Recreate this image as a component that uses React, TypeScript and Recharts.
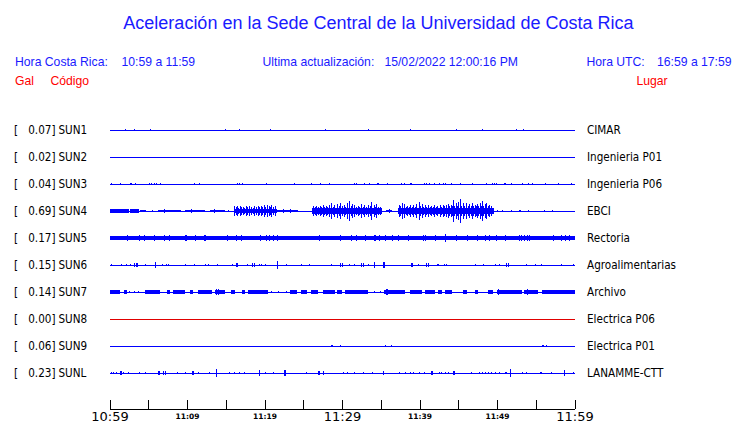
import React from 'react'
import { ComposedChart, Line, Area, Scatter, ErrorBar, XAxis, YAxis } from 'recharts'

// station codes, peak values (Gal) and places, top to bottom
const STATIONS = ['SUN1', 'SUN2', 'SUN3', 'SUN4', 'SUN5', 'SUN6', 'SUN7', 'SUN8', 'SUN9', 'SUNL']
const PEAKS = ['0.07', '0.02', '0.04', '0.69', '0.17', '0.15', '0.14', '0.00', '0.06', '0.23']
const PLACES = ['CIMAR', 'Ingenieria P01', 'Ingenieria P06', 'EBCI', 'Rectoria', 'Agroalimentarias', 'Archivo', 'Electrica P06', 'Electrica P01', 'LANAMME-CTT']
const TRACE_COLORS = ['#0000ff', '#0000ff', '#0000ff', '#0000ff', '#0000ff', '#0000ff', '#0000ff', '#e00000', '#0000ff', '#0000ff']

// time axis, minutes after 10:59
const TIME_TICKS = [0, 5, 10, 15, 20, 25, 30, 35, 40, 45, 50, 55, 60]
const TIME_LABELS = ['10:59', '', '11:09', '', '11:19', '', '11:29', '', '11:39', '', '11:49', '', '11:59']
const MAJOR_TICKS = [0, 30, 60]

// spikes: [minute, half amplitude in Gal]
const SUN1_SPIKES = [
  [2.0, 0.04], [3.1, 0.07], [5.2, 0.07], [14.9, 0.07], [16.7, 0.04], [20.7, 0.07], [27.8, 0.04],
  [33.4, 0.07], [38.8, 0.07], [44.7, 0.07], [48.0, 0.04], [52.4, 0.07], [53.3, 0.07],
]
const SUN2_SPIKES: number[][] = []
const SUN3_SPIKES = [
  [0.13, 0.05], [1.38, 0.05], [2.6, 0.07], [2.75, 0.07], [3.35, 0.04], [5.16, 0.04], [5.38, 0.05], [5.68, 0.05],
  [6.02, 0.04], [6.58, 0.05], [10.88, 0.05], [11.57, 0.04], [16.5, 0.07], [16.65, 0.07], [17.16, 0.04],
  [20.22, 0.04], [23.78, 0.05], [26.02, 0.05], [27.18, 0.05], [28.3, 0.05], [31.6, 0.06], [31.75, 0.06],
  [32.86, 0.05], [33.46, 0.05], [34.5, 0.07], [34.65, 0.07], [35.83, 0.04], [37.59, 0.05], [38.06, 0.04],
  [38.8, 0.06], [38.95, 0.06], [40.56, 0.05], [40.9, 0.05], [41.29, 0.06], [41.85, 0.05], [42.49, 0.06],
  [43.05, 0.05], [43.31, 0.05], [44.09, 0.04], [45.2, 0.05], [46.71, 0.05], [48.6, 0.04], [49.4, 0.06],
  [49.55, 0.06], [49.89, 0.05], [50.9, 0.07], [51.05, 0.07], [51.83, 0.05], [53.29, 0.04], [54.02, 0.05],
  [54.58, 0.05], [56.13, 0.04], [57.85, 0.04], [59.57, 0.05],
]
const SUN4_SPIKES = [
  [1.0, 0.1], [3.0, 0.1], [5.5, 0.08], [7.0, 0.09], [10.5, 0.09], [13.5, 0.1], [15.3, 0.08],
  [16.1, 0.3], [16.3, 0.2], [16.4, 0.26], [16.6, 0.18], [16.8, 0.3], [17.0, 0.2], [17.2, 0.24], [17.4, 0.18],
  [17.6, 0.3], [17.8, 0.2], [18.0, 0.26], [18.3, 0.22], [18.5, 0.18], [18.7, 0.3], [18.9, 0.2], [19.1, 0.26],
  [19.3, 0.2], [19.5, 0.3], [19.7, 0.22], [19.9, 0.33], [20.1, 0.24], [20.3, 0.36], [20.6, 0.3], [20.75, 0.2],
  [20.9, 0.36], [21.1, 0.22], [21.3, 0.28], [22.4, 0.1], [23.3, 0.09],
  [26.3, 0.26], [26.5, 0.2], [26.7, 0.3], [26.9, 0.22], [27.1, 0.27], [27.3, 0.2], [27.5, 0.33], [27.7, 0.24],
  [27.9, 0.3], [28.1, 0.22], [28.3, 0.36], [28.6, 0.44], [28.8, 0.24], [29.0, 0.33], [29.3, 0.38], [29.55, 0.26],
  [29.8, 0.45], [30.0, 0.26], [30.2, 0.36], [30.4, 0.24], [30.6, 0.42], [30.9, 0.55], [31.1, 0.26],
  [31.3, 0.4], [31.6, 0.36], [31.8, 0.24], [32.0, 0.3], [32.25, 0.22], [32.5, 0.4], [32.7, 0.24], [32.9, 0.33],
  [33.1, 0.22], [33.3, 0.36], [33.55, 0.26], [33.8, 0.5], [34.1, 0.33], [34.25, 0.22], [34.4, 0.4],
  [34.65, 0.22], [34.9, 0.24], [36.0, 0.1],
  [37.3, 0.36], [37.5, 0.26], [37.7, 0.44], [38.0, 0.4], [38.2, 0.24], [38.4, 0.3], [38.6, 0.22], [38.8, 0.33],
  [39.0, 0.24], [39.2, 0.36], [39.4, 0.24], [39.6, 0.4], [39.9, 0.5], [40.1, 0.26], [40.3, 0.4], [40.5, 0.24],
  [40.7, 0.36], [40.9, 0.24], [41.1, 0.33], [41.3, 0.22], [41.5, 0.3], [41.7, 0.24], [41.9, 0.36], [42.1, 0.24],
  [42.3, 0.3], [42.6, 0.32], [42.8, 0.24], [43.0, 0.36], [43.2, 0.26], [43.4, 0.33], [43.7, 0.4], [43.85, 0.26],
  [44.0, 0.36], [44.15, 0.28], [44.3, 0.62], [44.5, 0.3], [44.7, 0.44], [44.85, 0.3], [45.0, 0.5],
  [45.2, 0.69], [45.4, 0.3], [45.6, 0.44], [45.8, 0.3], [46.0, 0.46], [46.2, 0.3], [46.4, 0.4], [46.6, 0.28],
  [46.8, 0.46], [46.95, 0.28], [47.1, 0.36], [47.25, 0.26], [47.4, 0.4], [47.6, 0.28], [47.8, 0.44],
  [47.95, 0.3], [48.1, 0.56], [48.25, 0.28], [48.4, 0.4], [48.6, 0.46], [48.8, 0.28], [49.0, 0.36], [49.2, 0.28],
  [50.0, 0.06], [50.6, 0.06], [51.8, 0.06], [52.8, 0.08], [53.0, 0.06], [54.0, 0.05], [56.1, 0.06], [57.1, 0.08],
]
const SUN5_SPIKES = [
  [2.28, 0.17], [3.78, 0.17], [4.43, 0.17], [5.68, 0.17], [7.01, 0.15], [7.74, 0.15], [9.7, 0.17], [9.85, 0.17],
  [10.97, 0.17], [12.2, 0.19], [12.35, 0.19], [15.18, 0.17], [16.34, 0.15], [16.99, 0.15], [19.48, 0.17],
  [20.13, 0.17], [20.52, 0.17], [21.08, 0.17], [21.63, 0.15], [27.01, 0.17], [29.72, 0.15], [31.18, 0.15],
  [31.87, 0.17], [33.03, 0.17], [34.1, 0.17], [34.25, 0.17], [34.75, 0.17], [35.61, 0.15], [36.43, 0.15],
  [37.29, 0.15], [38.58, 0.15], [40.5, 0.17], [40.65, 0.17], [41.94, 0.17], [43.23, 0.24], [44.65, 0.17],
  [46.15, 0.17], [47.4, 0.17], [48.39, 0.15], [49.03, 0.15], [49.89, 0.15], [50.97, 0.15], [52.82, 0.17],
  [53.12, 0.17], [53.46, 0.17], [53.81, 0.17], [54.11, 0.17], [57.2, 0.15], [58.28, 0.17], [58.8, 0.17],
  [59.35, 0.17],
]
const SUN6_SPIKES = [
  [0.13, 0.06], [1.42, 0.06], [2.15, 0.06], [2.67, 0.06], [3.2, 0.09], [3.4, 0.09], [3.6, 0.09], [4.52, 0.06],
  [5.89, 0.17], [6.8, 0.05], [7.31, 0.06], [7.61, 0.05], [9.68, 0.05], [10.88, 0.06], [12.26, 0.05], [12.77, 0.06],
  [13.85, 0.05], [15.78, 0.06], [16.3, 0.09], [16.5, 0.09], [17.76, 0.06], [18.45, 0.09], [18.65, 0.09],
  [19.23, 0.06], [19.57, 0.06], [20.09, 0.06], [21.55, 0.2], [22.71, 0.06], [24.73, 0.06], [25.72, 0.06],
  [28.6, 0.06], [29.8, 0.09], [30.0, 0.09], [30.84, 0.06], [31.53, 0.06], [32.5, 0.09], [32.65, 0.09],
  [33.33, 0.06], [34.11, 0.17], [35.3, 0.15], [35.45, 0.15], [38.85, 0.12], [39.0, 0.12], [39.78, 0.06],
  [40.9, 0.09], [41.05, 0.09], [42.2, 0.07], [42.35, 0.07], [43.2, 0.07], [43.4, 0.07], [47.1, 0.06],
  [48.17, 0.06], [49.76, 0.06], [50.32, 0.06], [51.2, 0.09], [51.4, 0.09], [53.76, 0.06], [54.84, 0.06],
  [55.7, 0.06], [58.28, 0.06], [59.78, 0.07],
]
const SUN7_SPIKES = [
  [2.58, 0.08], [3.14, 0.08], [3.66, 0.08], [13.8, 0.16], [13.95, 0.16], [20.86, 0.08], [21.72, 0.08], [22.8, 0.08],
  [34.19, 0.08], [34.84, 0.08], [35.7, 0.16], [35.85, 0.16], [50.1, 0.14], [53.9, 0.16],
]
const SUN8_SPIKES: number[][] = []
const SUN9_SPIKES = [
  [28.6, 0.08], [28.7, 0.08], [29.72, 0.05], [35.53, 0.08], [36.26, 0.05], [55.8, 0.08], [55.9, 0.08], [56.34, 0.05],
]
const SUNL_SPIKES = [
  [0.13, 0.06], [0.43, 0.06], [0.86, 0.06], [1.3, 0.1], [1.45, 0.1], [1.72, 0.06], [2.37, 0.05], [3.78, 0.06],
  [4.6, 0.06], [6.2, 0.1], [6.35, 0.1], [6.9, 0.1], [7.1, 0.1], [8.73, 0.08], [9.68, 0.08], [10.6, 0.1],
  [10.8, 0.1], [11.4, 0.07], [12.82, 0.06], [13.76, 0.22], [15.48, 0.06], [16.04, 0.05], [16.77, 0.06],
  [17.33, 0.05], [19.23, 0.19], [20.0, 0.05], [21.08, 0.05], [22.5, 0.16], [22.7, 0.16], [25.38, 0.05],
  [26.9, 0.1], [27.05, 0.1], [27.53, 0.1], [30.11, 0.05], [30.67, 0.08], [31.61, 0.05], [32.69, 0.08],
  [33.89, 0.08], [35.27, 0.13], [37.33, 0.06], [38.19, 0.07], [38.8, 0.08], [39.14, 0.06], [39.91, 0.05],
  [40.52, 0.05], [41.45, 0.1], [41.6, 0.1], [42.49, 0.06], [42.8, 0.07], [43.31, 0.06], [43.66, 0.06],
  [44.35, 0.1], [44.5, 0.1], [46.67, 0.06], [47.74, 0.08], [48.09, 0.06], [48.47, 0.06], [48.9, 0.06],
  [49.25, 0.06], [49.76, 0.06], [50.32, 0.06], [50.97, 0.07], [51.18, 0.06], [51.74, 0.24], [53.2, 0.08],
  [53.76, 0.08], [55.5, 0.08], [55.65, 0.08], [56.99, 0.06], [58.62, 0.16], [59.78, 0.06],
]

// dense segments: [from minute, to minute, half amplitude in Gal]
const SUN4_BANDS = [
  [0, 2.4, 0.09], [2.6, 3.7, 0.09], [3.9, 4.7, 0.08], [6.2, 9.2, 0.07], [9.7, 12.3, 0.08], [12.9, 14.8, 0.08],
  [16.0, 21.6, 0.13], [21.6, 24.2, 0.08], [26.1, 35.1, 0.14], [35.6, 36.4, 0.08], [37.1, 49.5, 0.15],
]
const SUN5_BANDS = [[0, 60, 0.13]]
const SUN7_BANDS = [
  [0, 1.29, 0.09], [1.85, 2.19, 0.09], [4.52, 6.45, 0.09], [7.31, 7.74, 0.09], [8.17, 9.68, 0.09],
  [10.32, 10.75, 0.09], [11.4, 13.12, 0.09], [13.55, 14.84, 0.09], [15.61, 16.13, 0.09], [16.99, 17.42, 0.09],
  [17.85, 20.43, 0.09], [23.23, 24.09, 0.09], [24.65, 25.38, 0.09], [25.94, 26.88, 0.09], [27.53, 29.03, 0.09],
  [29.25, 29.89, 0.09], [30.32, 33.33, 0.09], [35.38, 38.06, 0.09], [38.71, 40.22, 0.09], [40.65, 41.94, 0.09],
  [42.37, 42.8, 0.09], [43.23, 44.09, 0.09], [45.59, 46.02, 0.09], [47.1, 47.53, 0.09], [48.82, 49.46, 0.09],
  [49.89, 53.12, 0.09], [53.46, 55.27, 0.09], [55.7, 60, 0.09],
]

const SPIKES = [SUN1_SPIKES, SUN2_SPIKES, SUN3_SPIKES, SUN4_SPIKES, SUN5_SPIKES, SUN6_SPIKES, SUN7_SPIKES, SUN8_SPIKES, SUN9_SPIKES, SUNL_SPIKES]
const BANDS: Record<number, number[][]> = { 3: SUN4_BANDS, 4: SUN5_BANDS, 6: SUN7_BANDS }

const GAL_PER_ROW = 1.5
const rowValue = (i: number) => STATIONS.length - i
const ROW_TICKS = STATIONS.map((_, i) => rowValue(i))
const Y_DOMAIN = [-1 / 3, 11]

const baseData = (i: number) => [{ t: 0, v: rowValue(i) }, { t: 60, v: rowValue(i) }]
const spikeData = (i: number) => SPIKES[i].map(([t, a]) => ({ t, v: rowValue(i), e: a / GAL_PER_ROW }))
const bandData = (i: number) => {
  const out: any[] = []
  BANDS[i].forEach(([a, b, amp]) => {
    const h = amp / GAL_PER_ROW
    out.push({ t: a, v: [rowValue(i) - h, rowValue(i) + h] })
    out.push({ t: b, v: [rowValue(i) - h, rowValue(i) + h] })
    out.push({ t: b, v: null })
  })
  return out
}

const LABEL_FONT = "'DejaVu Sans Condensed', 'DejaVu Sans', sans-serif"
const HEAD_FONT = "'Liberation Sans', Arial, sans-serif"

const LeftTick = ({ y, payload }: any) => {
  const i = STATIONS.length - payload.value
  return (
    <g fontFamily={LABEL_FONT} fontSize={11.6} fill="#000">
      <text x={14} y={y} dominantBaseline="central">[</text>
      <text x={55.5} y={y} textAnchor="end" dominantBaseline="central">{PEAKS[i]}]</text>
      <text x={58.5} y={y} dominantBaseline="central">{STATIONS[i]}</text>
    </g>
  )
}

const RightTick = ({ x, y, payload }: any) => {
  const i = STATIONS.length - payload.value
  return (
    <text x={x + 12} y={y} dominantBaseline="central" fontFamily={LABEL_FONT} fontSize={11.6} fill="#000">
      {PLACES[i]}
    </text>
  )
}

const TimeTick = ({ x, y, payload }: any) => {
  const idx = TIME_TICKS.indexOf(payload.value)
  const label = TIME_LABELS[idx]
  const major = MAJOR_TICKS.includes(payload.value)
  return (
    <g>
      <line x1={x} x2={x} y1={y - 9} y2={y} stroke="#000" />
      {label && (
        <text
          x={x}
          y={y + (major ? 12 : 10)}
          textAnchor="middle"
          fontFamily="'DejaVu Sans', sans-serif"
          fontSize={major ? 13 : 7.5}
          fontWeight={major ? 'normal' : 'bold'}
          fill="#000"
        >
          {label}
        </text>
      )}
    </g>
  )
}

export default function App() {
  return (
    <div style={{ position: 'absolute', left: 0, top: 0, width: 740, height: 423, background: '#fff', shapeRendering: 'crispEdges' }}>
      <svg width={740} height={100} style={{ position: 'absolute', left: 0, top: 0 }} fontFamily={HEAD_FONT}>
        <text x={378.5} y={28.5} textAnchor="middle" fontSize={18} fill="#1a1aff">
          Aceleración en la Sede Central de la Universidad de Costa Rica
        </text>
        <g fontSize={12.2} fill="#1a1aff">
          <text x={15} y={65.5}>Hora Costa Rica:</text>
          <text x={121.5} y={65.5}>10:59 a 11:59</text>
          <text x={262.5} y={65.5} xmlSpace="preserve">Ultima actualización:   15/02/2022 12:00:16 PM</text>
          <text x={586.5} y={65.5}>Hora UTC:</text>
          <text x={657} y={65.5}>16:59 a 17:59</text>
        </g>
        <g fontSize={12.2} fill="#ff0000">
          <text x={15} y={85}>Gal</text>
          <text x={50.5} y={85}>Código</text>
          <text x={636.5} y={85}>Lugar</text>
        </g>
      </svg>
      <div style={{ position: 'absolute', left: 0, top: 0 }}>
        <ComposedChart width={740} height={423} margin={{ top: 103, right: 0, bottom: 0, left: 0 }}>
          <XAxis
            dataKey="t"
            type="number"
            domain={[0, 60]}
            allowDataOverflow
            ticks={TIME_TICKS}
            interval={0}
            tick={<TimeTick />}
            tickLine={false}
            tickSize={0}
            tickMargin={0}
            axisLine={{ stroke: '#000' }}
            height={14}
          />
          <YAxis
            yAxisId="l"
            type="number"
            domain={Y_DOMAIN}
            allowDataOverflow
            ticks={ROW_TICKS}
            interval={0}
            tick={<LeftTick />}
            tickLine={false}
            tickSize={0}
            tickMargin={0}
            axisLine={false}
            width={110}
          />
          <YAxis
            yAxisId="r"
            orientation="right"
            type="number"
            domain={Y_DOMAIN}
            allowDataOverflow
            ticks={ROW_TICKS}
            interval={0}
            tick={<RightTick />}
            tickLine={false}
            tickSize={0}
            tickMargin={0}
            axisLine={false}
            width={165}
          />
          {STATIONS.map((s, i) => (
            <Line
              key={'base' + s}
              yAxisId="r"
              data={baseData(i)}
              dataKey="v"
              stroke={TRACE_COLORS[i]}
              strokeWidth={1}
              dot={false}
              activeDot={false}
              isAnimationActive={false}
            />
          ))}
          {STATIONS.map((s, i) =>
            BANDS[i] ? (
              <Area
                key={'band' + s}
                yAxisId="l"
                data={bandData(i)}
                dataKey="v"
                type="linear"
                stroke="none"
                fill={TRACE_COLORS[i]}
                fillOpacity={1}
                dot={false}
                activeDot={false}
                isAnimationActive={false}
              />
            ) : null
          )}
          {STATIONS.map((s, i) =>
            SPIKES[i].length ? (
              <Scatter
                key={'spk' + s}
                yAxisId="l"
                data={spikeData(i)}
                dataKey="v"
                shape={() => <g />}
                isAnimationActive={false}
              >
                <ErrorBar dataKey="e" direction="y" width={0} stroke={TRACE_COLORS[i]} strokeWidth={1} isAnimationActive={false} />
              </Scatter>
            ) : null
          )}
        </ComposedChart>
      </div>
    </div>
  )
}
